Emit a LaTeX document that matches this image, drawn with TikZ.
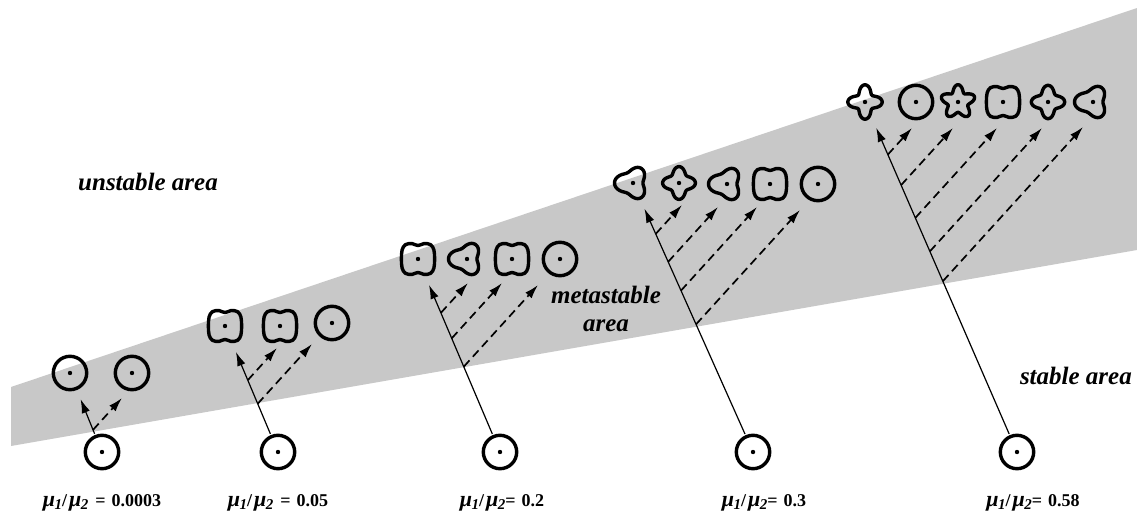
\documentclass[tikz,border=0pt]{standalone}
\usepackage{fontspec}
\setmainfont{Liberation Serif}
\usetikzlibrary{calc,arrows.meta}
\definecolor{wedgegray}{RGB}{200,200,200}

% ratio label: mu_1 / mu_2, then the relation and value
\newcommand\mupart[1]{{\fontsize{22}{22}\selectfont\itshape μ}\kern-0.5pt\raisebox{-3pt}{\fontsize{15}{15}\selectfont\itshape #1}}
\newcommand\muratio[1]{\mupart{1}/\kern2pt\mupart{2}#1}
% dashed branch: starts on the trunk #1--#2 and runs at a fixed slant to the tip #3
\newcommand\sprout[3]{%
  \coordinate (#3a) at ($(#3)+(-20,22)$);
  \coordinate (#3o) at (intersection of #1--#2 and #3--#3a);
  \draw[branch] (#3o) -- (#3);}

\tikzset{
  outline/.style={line width=3.4pt, line join=round},
  slot/.style={circle, inner sep=0pt, minimum size=56pt},
  seed/.style={circle, inner sep=0pt, minimum size=39pt},
  growth/.style={line width=1.2pt, -{Latex[length=14pt,width=8.5pt]}},
  branch/.style={line width=1.7pt, dash pattern=on 8.5pt off 5pt, -{Latex[length=14pt,width=8.5pt]}},
  area/.style={font=\fontsize{25}{28}\selectfont\bfseries\itshape, align=center, inner sep=0pt},
  ratio/.style={font=\fontsize{18}{20}\selectfont\bfseries, inner sep=0pt},
  % cell outlines, each with its nucleus dot
  roundcell/.pic={\draw[outline] (0,0) circle (16.7); \fill (0,0) circle (2.2);},
  squarecell/.pic={\draw[outline] plot[smooth cycle, tension=0.6] coordinates {
      (0,-13.4) (6,-15.4) (12.6,-14.3) (15.9,-9) (16.6,0) (15.9,9) (12.6,14.3) (6,15.4)
      (0,13.4) (-6,15.4) (-12.6,14.3) (-15.9,9) (-16.6,0) (-15.9,-9) (-12.6,-14.3) (-6,-15.4)};
    \fill (0,0) circle (2.2);},
  trefoil/.pic={\draw[outline] plot[domain=0:360, samples=181, variable=\t]
      ({14.2*(1-0.22*cos(3*\t)-0.08*cos(\t))*cos(\t)}, {14.2*(1-0.22*cos(3*\t)-0.08*cos(\t))*sin(\t)}) -- cycle;
    \fill (0,0) circle (2.2);},
  clover/.pic={\draw[outline] plot[domain=0:360, samples=181, variable=\t]
      ({13.4*(1+#1*cos(4*\t))*cos(\t)}, {13.4*(1+#1*cos(4*\t))*sin(\t)}) -- cycle;
    \fill (0,0) circle (2.2);},
  starcell/.pic={\draw[outline] plot[domain=0:360, samples=181, variable=\t]
      ({13.8*(1-0.25*sin(5*\t))*cos(\t)}, {13.8*(1-0.25*sin(5*\t))*sin(\t)}) -- cycle;
    \fill (0,0) circle (2.2);},
}

\begin{document}
\begin{tikzpicture}[x=1pt, y=-1pt]
\useasboundingbox (0,0) rectangle (1137,513);
\fill[white] (0,0) rectangle (1137,513);

% metastable wedge
\fill[wedgegray] (11,387) -- (1137,8) -- (1137,250) -- (11,446) -- cycle;

% area labels
\node[area, anchor=base west] (unstable) at (78,191) {unstable area};
\node[area, anchor=base] (metastable) at (606,331) {metastable\\area};
\node[area, anchor=base east] (stable) at (1132,384) {stable area};

% initial cells
\foreach \n/\x in {1/102, 2/278, 3/500, 4/753, 5/1017}{
  \node[seed] (b\n) at (\x,452) {};
  \pic at (b\n) {roundcell};
}

% ratio labels
\node[ratio, anchor=base] (r1) at (102,506) {\muratio{\hspace{7pt}=\hspace{6pt}0.0003}};
\node[ratio, anchor=base] (r2) at (278,506) {\muratio{\hspace{7pt}=\hspace{6pt}0.05}};
\node[ratio, anchor=base] (r3) at (502,506) {\muratio{=\hspace{6pt}0.2}};
\node[ratio, anchor=base] (r4) at (764,506) {\muratio{=\hspace{6pt}0.3}};
\node[ratio, anchor=base] (r5) at (1033,506) {\muratio{=\hspace{6pt}0.58}};

% mu1/mu2 = 0.0003
\node[slot] (s11) at (70,373) {};  \pic at (s11) {roundcell};
\node[slot] (s12) at (132,373) {}; \pic at (s12) {roundcell};
\draw[growth] (b1) -- (s11);
\coordinate (e12) at ($(s12)+(-10,25)$); \sprout{b1}{s11}{e12}

% mu1/mu2 = 0.05
\node[slot] (s21) at (225,326) {}; \pic at (s21) {squarecell};
\node[slot] (s22) at (280,326) {}; \pic at (s22) {squarecell};
\node[slot] (s23) at (332,323) {}; \pic at (s23) {roundcell};
\draw[growth] (b2) -- (s21);
\coordinate (e22) at ($(s22)+(-3,22)$);  \sprout{b2}{s21}{e22}
\coordinate (e23) at ($(s23)+(-20,21)$); \sprout{b2}{s21}{e23}

% mu1/mu2 = 0.2
\node[slot] (s31) at (418,259) {}; \pic at (s31) {squarecell};
\node[slot] (s32) at (467,259) {}; \pic at (s32) {trefoil};
\node[slot] (s33) at (512,259) {}; \pic at (s33) {squarecell};
\node[slot] (s34) at (560,259) {}; \pic at (s34) {roundcell};
\draw[growth] (b3) -- (s31);
\coordinate (e32) at ($(s32)+(1,24)$);   \sprout{b3}{s31}{e32}
\coordinate (e33) at ($(s33)+(-10,24)$); \sprout{b3}{s31}{e33}
\coordinate (e34) at ($(s34)+(-22,26)$); \sprout{b3}{s31}{e34}

% mu1/mu2 = 0.3
\node[slot] (s41) at (633,183) {}; \pic at (s41) {trefoil};
\node[slot] (s42) at (679,183) {}; \pic at (s42) {clover=0.22};
\node[slot] (s43) at (727,184) {}; \pic at (s43) {trefoil};
\node[slot] (s44) at (770,184) {}; \pic at (s44) {squarecell};
\node[slot] (s45) at (818,184) {}; \pic at (s45) {roundcell};
\draw[growth] (b4) -- (s41);
\coordinate (e42) at ($(s42)+(3,22)$);   \sprout{b4}{s41}{e42}
\coordinate (e43) at ($(s43)+(-9,23)$);  \sprout{b4}{s41}{e43}
\coordinate (e44) at ($(s44)+(-13,23)$); \sprout{b4}{s41}{e44}
\coordinate (e45) at ($(s45)+(-18,26)$); \sprout{b4}{s41}{e45}

% mu1/mu2 = 0.58
\node[slot] (s51) at (865,102) {};  \pic at (s51) {clover=0.28};
\node[slot] (s52) at (916,102) {};  \pic at (s52) {roundcell};
\node[slot] (s53) at (958,102) {};  \pic at (s53) {starcell};
\node[slot] (s54) at (1003,102) {}; \pic at (s54) {squarecell};
\node[slot] (s55) at (1048,102) {}; \pic at (s55) {clover=0.24};
\node[slot] (s56) at (1093,102) {}; \pic at (s56) {trefoil};
\draw[growth] (b5) -- (s51);
\coordinate (e52) at ($(s52)+(-4,26)$);  \sprout{b5}{s51}{e52}
\coordinate (e53) at ($(s53)+(-5,26)$);  \sprout{b5}{s51}{e53}
\coordinate (e54) at ($(s54)+(-6,26)$);  \sprout{b5}{s51}{e54}
\coordinate (e55) at ($(s55)+(-6,26)$);  \sprout{b5}{s51}{e55}
\coordinate (e56) at ($(s56)+(-10,25)$); \sprout{b5}{s51}{e56}
\end{tikzpicture}
\end{document}
